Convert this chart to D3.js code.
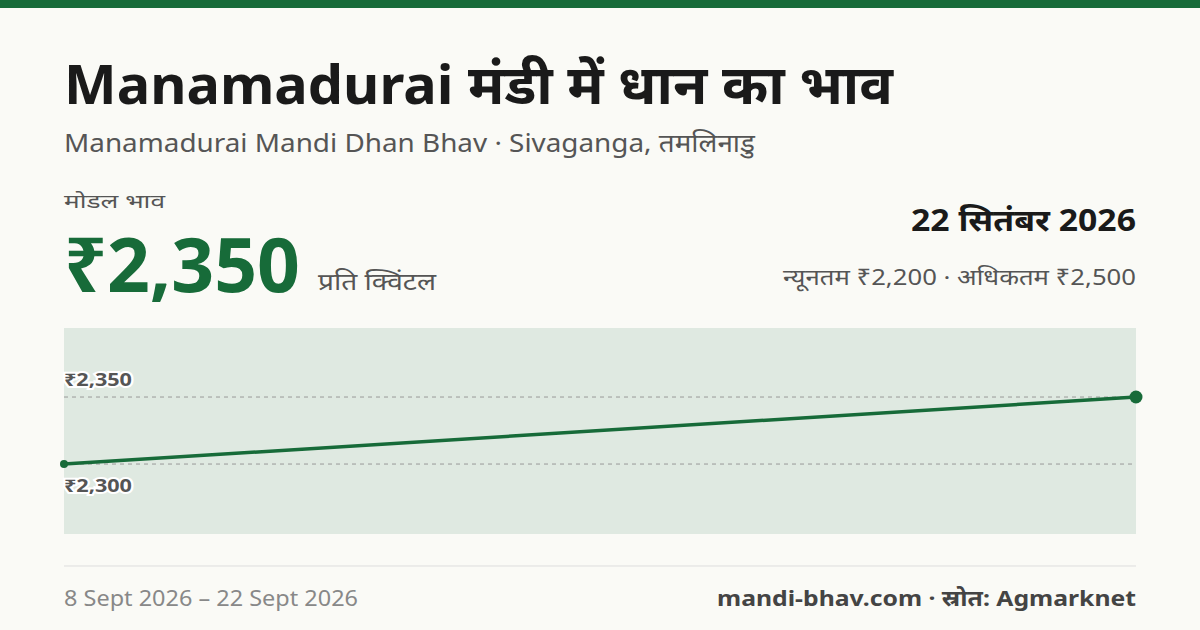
<!DOCTYPE html>
<html><head><meta charset="utf-8">
<script src="https://cdn.jsdelivr.net/npm/d3@7"></script>
<style>body{margin:0;background:#fafaf6}svg{display:block}text{font-family:"Noto Sans","Noto Sans Devanagari",sans-serif}</style>
</head><body><svg id="c" width="1200" height="630"></svg>
<script>
const dates = ["8 Sept 2026", "22 Sept 2026"];
const prices = [2300, 2350];
const tickValues = [2300, 2350];
const tickLabels = ["₹2,300", "₹2,350"];

const svg = d3.select("#c");
const G = "#176b39";
svg.append("rect").attr("width",1200).attr("height",630).attr("fill","#fafaf6");
svg.append("rect").attr("width",1200).attr("height",8).attr("fill",G);
const t=(x,y,s,txt,o={})=>{const e=svg.append("text").attr("x",x).attr("y",y).attr("font-size",s)
  .attr("font-weight",o.w||400).attr("fill",o.c||"#222").attr("text-anchor",o.a||"start").text(txt);
  if(o.L) e.attr("textLength",o.L).attr("lengthAdjust","spacingAndGlyphs"); return e;};
t(64,104,54,"Manamadurai मंडी में धान का भाव",{w:700,c:"#1a1a1a",L:829});
t(64,152,25,"Manamadurai Mandi Dhan Bhav · Sivaganga, तमलिनाडु",{c:"#555",L:691});
t(64,208,19,"मोडल भाव",{c:"#555",L:101});
t(64,292,76,"₹2,350",{w:700,c:G,L:236});
t(318,290,24,"प्रति क्विंटल",{c:"#555",L:118});
t(1136,231,31,"22 सितंबर 2026",{w:700,c:"#1a1a1a",a:"end",L:225});
t(1136,285,22,"न्यूनतम ₹2,200 · अधिकतम ₹2,500",{c:"#555",a:"end",L:353});

const x0=64,x1=1136,y0=328,y1=534;
svg.append("rect").attr("x",x0).attr("y",y0).attr("width",x1-x0).attr("height",y1-y0).attr("fill","#dfe9e1");
const x=d3.scalePoint().domain(dates).range([x0,x1]);
const y=d3.scaleLinear().domain([2247.8,2401.5]).range([y1,y0]);
tickValues.forEach((v,i)=>{
  svg.append("line").attr("x1",x0).attr("x2",x1).attr("y1",y(v)).attr("y2",y(v))
    .attr("stroke","#999").attr("stroke-dasharray","4,4").attr("stroke-width",1);
  const yy = i===0 ? y(v)+28 : y(v)-11;
  svg.append("text").attr("x",x0).attr("y",yy).attr("font-size",18).attr("font-weight",700)
   .attr("fill","#555").attr("stroke","#fff").attr("stroke-width",4).attr("paint-order","stroke")
   .attr("textLength",68).attr("lengthAdjust","spacingAndGlyphs").text(tickLabels[i]);
});
const data=dates.map((d,i)=>({d,v:prices[i]}));
svg.append("path").datum(data).attr("d",d3.line().x(d=>x(d.d)).y(d=>y(d.v)))
  .attr("fill","none").attr("stroke",G).attr("stroke-width",3.5);
svg.append("circle").attr("cx",x(dates[0])).attr("cy",y(prices[0])).attr("r",4).attr("fill",G);
svg.append("circle").attr("cx",x(dates[1])).attr("cy",y(prices[1])).attr("r",6.5).attr("fill",G);

svg.append("line").attr("x1",64).attr("x2",1136).attr("y1",566).attr("y2",566).attr("stroke","#ddd");
t(64,606,22,dates[0]+" – "+dates[1],{c:"#888",L:294});
t(1136,606,22,"mandi-bhav.com · स्रोत: Agmarknet",{w:700,c:"#444",a:"end",L:419});
</script></body></html>
